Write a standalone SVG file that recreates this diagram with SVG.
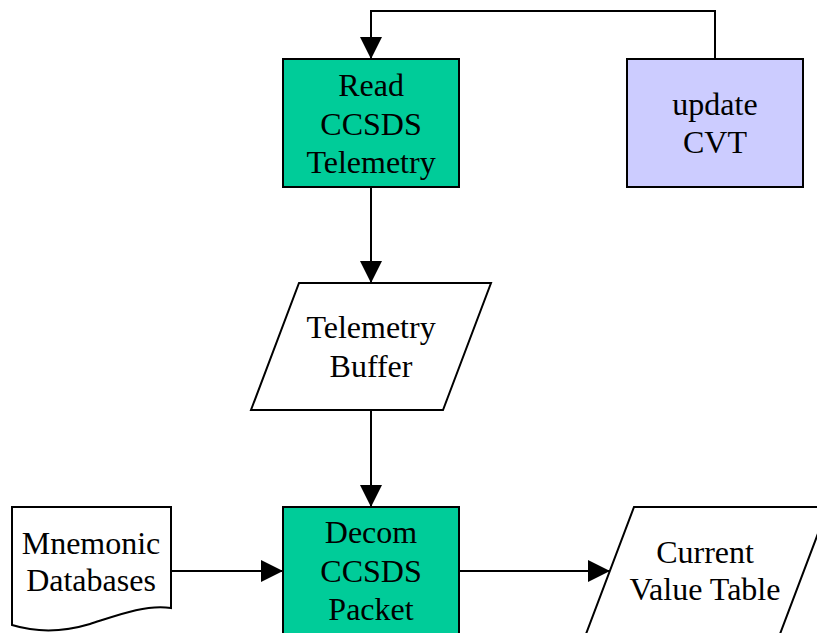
<svg xmlns="http://www.w3.org/2000/svg" width="817" height="633" viewBox="0 0 817 633">
<style>
.box{stroke:#000;stroke-width:2}
.proc{fill:#00CC99}
.upd{fill:#CCCCFF}
.data{fill:#fff}
.t{font-family:"Liberation Serif","Times New Roman",serif;font-size:32px;fill:#000;text-anchor:middle}
.c{fill:none;stroke:#000;stroke-width:2}
</style>
<defs>
<marker id="ah" markerUnits="userSpaceOnUse" markerWidth="22" markerHeight="22" viewBox="0 0 20 20" refX="20" refY="10" orient="auto">
<path d="M0,0 L20,10 L0,20 Z" fill="#000"/>
</marker>
</defs>
<rect width="817" height="633" fill="#fff"/>
<g id="connectors">
<path class="c" d="M715,59 V11 H371 V59" marker-end="url(#ah)"/>
<path class="c" d="M371,187 V283" marker-end="url(#ah)"/>
<path class="c" d="M371,410 V507" marker-end="url(#ah)"/>
<path class="c" d="M171,571 H283" marker-end="url(#ah)"/>
<path class="c" d="M459,571 H610" marker-end="url(#ah)"/>
</g>
<g id="read">
<rect class="box proc" x="283" y="59" width="176" height="128"/>
<text class="t" x="371" y="96">Read</text>
<text class="t" x="371" y="135">CCSDS</text>
<text class="t" x="371" y="173">Telemetry</text>
</g>
<g id="update">
<rect class="box upd" x="627" y="59" width="176" height="128"/>
<text class="t" x="715" y="115">update</text>
<text class="t" x="715" y="153">CVT</text>
</g>
<g id="buffer">
<polygon class="box data" points="299,283 491,283 443,410 251,410"/>
<text class="t" x="371" y="338">Telemetry</text>
<text class="t" x="371" y="377">Buffer</text>
</g>
<g id="mnemonic">
<path class="box data" d="M12,507 H171 V608 C145,604 115,616 90,624 C60,633 35,632 12,625 Z"/>
<text class="t" x="91" y="554">Mnemonic</text>
<text class="t" x="91" y="591">Databases</text>
</g>
<g id="decom">
<rect class="box proc" x="283" y="507" width="176" height="140"/>
<text class="t" x="371" y="543">Decom</text>
<text class="t" x="371" y="582">CCSDS</text>
<text class="t" x="371" y="620">Packet</text>
</g>
<g id="cvt">
<polygon class="box data" points="634,507 828,507 780,634 586,634"/>
<text class="t" x="705" y="563">Current</text>
<text class="t" x="705" y="600">Value Table</text>
</g>
</svg>
